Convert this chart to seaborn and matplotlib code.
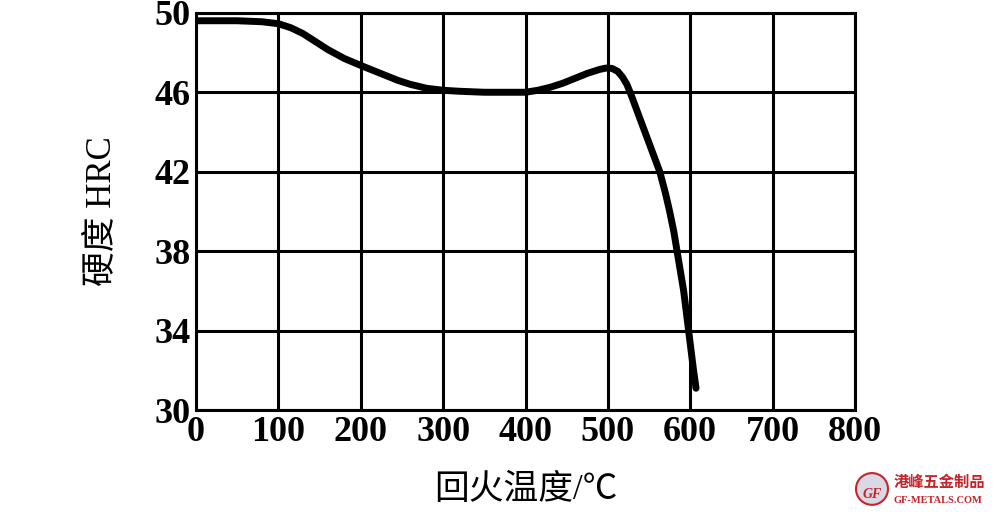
import numpy as np
import pandas as pd
import matplotlib
matplotlib.use("Agg")
import matplotlib.pyplot as plt
import seaborn as sns
from matplotlib.patches import Ellipse

# tempering temperature (C) vs hardness (HRC)
temp = [0, 50, 80, 100, 115, 130, 145, 160, 180, 200, 215, 230, 245, 260, 280,
        300, 320, 350, 375, 400, 415, 430, 445, 460, 475, 490, 498, 505, 512,
        518, 523, 527, 536, 545, 554, 563, 570, 575, 580, 584, 588, 592, 595,
        598, 601, 604, 607]
hrc = [49.6, 49.6, 49.55, 49.45, 49.25, 48.95, 48.55, 48.15, 47.7, 47.35, 47.1,
       46.85, 46.6, 46.4, 46.2, 46.1, 46.05, 46.0, 46.0, 46.0, 46.1, 46.25, 46.45,
       46.7, 46.95, 47.15, 47.22, 47.2, 47.05, 46.75, 46.4, 46.0, 45.0, 44.0,
       43.0, 42.0, 40.9, 40.0, 39.0, 38.0, 37.0, 36.0, 35.0, 34.0, 33.0, 32.0,
       31.1]
x_ticks = [0, 100, 200, 300, 400, 500, 600, 700, 800]
y_ticks = [30, 34, 38, 42, 46, 50]

df = pd.DataFrame({"temp": temp, "hrc": hrc})

sns.set_style("white")
plt.rcParams['font.family'] = ['Liberation Serif', 'Noto Sans CJK SC', 'DejaVu Sans']
plt.rcParams['text.color'] = 'black'
plt.rcParams['axes.labelcolor'] = 'black'
plt.rcParams['xtick.color'] = 'black'
plt.rcParams['ytick.color'] = 'black'

fig = plt.figure(figsize=(10, 5.12), dpi=100)
ax = fig.add_axes([0.196, 0.199, 0.659, 0.776])

for xv in x_ticks:
    ax.axvline(xv, color='black', lw=2.2, zorder=1)
for yv in y_ticks:
    ax.axhline(yv, color='black', lw=2.2, zorder=1)

sns.lineplot(data=df, x="temp", y="hrc", ax=ax, color='black', lw=5,
             sort=False, zorder=3)
ax.lines[-1].set_solid_joinstyle('round')
ax.lines[-1].set_solid_capstyle('round')

ax.set_xlim(0, 800)
ax.set_ylim(30, 50)
ax.set_xticks(x_ticks)
ax.set_yticks(y_ticks)
ax.tick_params(axis='both', length=0, labelsize=26, pad=4)
for lab in ax.get_xticklabels() + ax.get_yticklabels():
    lab.set_fontweight('bold')
for s in ax.spines.values():
    s.set_color('black')
    s.set_linewidth(2.2)

ax.set_xlabel('回火温度/℃', fontsize=25, labelpad=18)
ax.set_ylabel('硬度 HRC', fontsize=25, labelpad=26)

# watermark in the corner
logo = Ellipse((0.872, 0.045), 0.032, 0.062, transform=fig.transFigure,
               facecolor='#d9d9e6', edgecolor='#c8222a', lw=1.5)
fig.add_artist(logo)
fig.text(0.872, 0.035, 'GF', color='#c8222a', fontsize=10, fontweight='bold',
         style='italic', ha='center', va='center')
fig.text(0.894, 0.058, '港峰五金制品', color='#c8222a', fontsize=11,
         family=['Noto Sans CJK SC'], fontweight='bold', ha='left', va='center')
fig.text(0.894, 0.022, 'GF-METALS.COM', color='#c8222a', fontsize=7.5,
         fontweight='bold', ha='left', va='center')

plt.savefig('out.png', dpi=100)
